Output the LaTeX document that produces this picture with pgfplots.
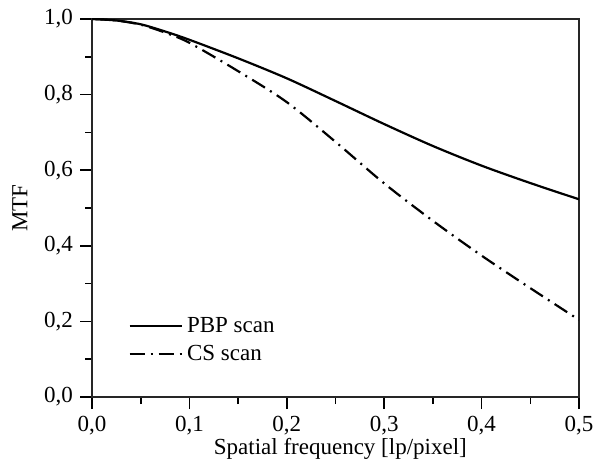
\documentclass[border=0pt]{standalone}
\usepackage{fontspec}
\setmainfont{Liberation Serif}
\usepackage{pgfplots}
\pgfplotsset{compat=1.18}
\begin{document}
\begin{tikzpicture}
\begin{axis}[
  scale only axis,
  width=243.5pt, height=189pt,
  xmin=0, xmax=0.5, ymin=0, ymax=1,
  xtick={0,0.1,...,0.5}, ytick={0,0.2,...,1.0},
  minor x tick num=1, minor y tick num=1,
  xtick pos=left, ytick pos=left,
  tick align=outside,
  major tick length=6pt, minor tick length=3.5pt,
  every tick/.style={line width=0.8pt, black},
  axis line style={line width=1pt, black!85},
  /pgf/number format/assume math mode=true,
  /pgf/number format/use comma,
  /pgf/number format/fixed,
  /pgf/number format/fixed zerofill,
  /pgf/number format/precision=1,
  tick label style={font=\fontsize{11.5}{13}\selectfont},
  label style={font=\fontsize{11.5}{13}\selectfont},
  xlabel={Spatial frequency [lp/pixel]},
  ylabel={MTF},
  xlabel style={at={(axis description cs:0.51,-0.137)}, anchor=center},
  ylabel style={at={(axis description cs:-0.148,0.5)}, anchor=center},
  legend style={draw=none, fill=none, at={(axis description cs:0.07,0.228)}, anchor=north west,
     font=\fontsize{11.5}{13}\selectfont, row sep=1pt, inner sep=1pt},
  legend cell align=left,
  legend image code/.code={\draw[#1] (0cm,0cm) -- (0.92cm,0cm);},
]
\addplot[black, line width=1.1pt, smooth] coordinates {
 (0,1.0) (0.025,0.996) (0.05,0.986) (0.075,0.967) (0.1,0.945) (0.15,0.896) (0.2,0.843) (0.25,0.783)
 (0.3,0.722) (0.35,0.664) (0.4,0.612) (0.45,0.566) (0.5,0.523)};
\addlegendentry{PBP scan}
\addplot[black, line width=1.1pt, smooth, dash pattern=on 7.5pt off 3pt on 1pt off 3pt] coordinates {
 (0,1.0) (0.025,0.996) (0.05,0.985) (0.075,0.964) (0.1,0.937) (0.15,0.862) (0.2,0.780) (0.25,0.675)
 (0.3,0.565) (0.35,0.466) (0.4,0.374) (0.45,0.288) (0.5,0.204)};
\addlegendentry{CS scan}
\end{axis}
\pgfresetboundingbox
\path (current axis.south west) ++(-46pt,-33.5pt) coordinate (bbA);
\path (current axis.north east) ++(12pt,9.5pt) coordinate (bbB);
\useasboundingbox (bbA) rectangle (bbB);
\end{tikzpicture}
\end{document}
